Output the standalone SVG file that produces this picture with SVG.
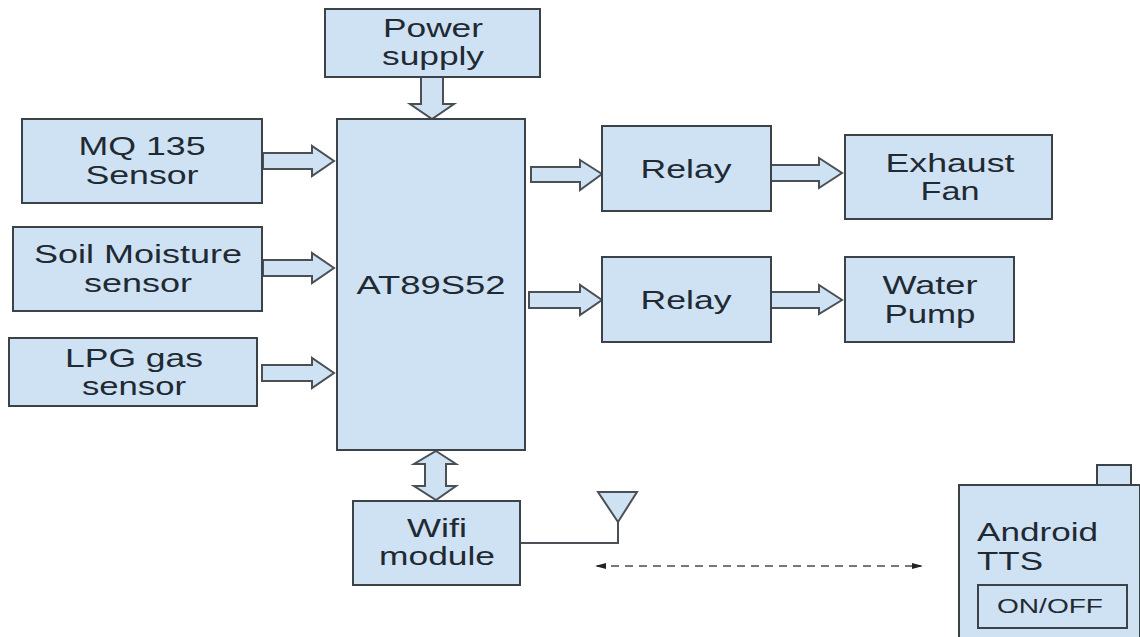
<svg xmlns="http://www.w3.org/2000/svg" width="1140" height="637" viewBox="0 0 1140 637">
<style>
.b{fill:#cfe2f3;stroke:#3c4348;stroke-width:2}
.a{fill:#cfe2f3;stroke:#4a5056;stroke-width:2;stroke-linejoin:miter}
.l{fill:none;stroke:#4a5056;stroke-width:2}
text{font-family:"Liberation Sans",Arial,sans-serif;font-size:26px;fill:#1f2a33;text-anchor:middle}
</style>
<defs>
<marker id="h" markerWidth="11" markerHeight="6" refX="9" refY="3" orient="auto-start-reverse" markerUnits="userSpaceOnUse"><path d="M0 0L11 3L0 6z" fill="#222"/></marker>
</defs>
<rect width="1140" height="637" fill="#fff"/>
<g id="connectors">
<path class="a" d="M421 77H443V104H454L432 119L410 104H421Z"/>
<path class="a" d="M263 153H312V146L334 161L312 176V169H263Z"/>
<path class="a" d="M263 260H312V253L334 268L312 283V276H263Z"/>
<path class="a" d="M262 365H312V358L334 373L312 388V381H262Z"/>
<path class="a" d="M531 167H580V160L602 174L580 190V182H531Z"/>
<path class="a" d="M529 292H580V285L602 300L580 315V308H529Z"/>
<path class="a" d="M771 165H819V158L842 173L819 188V181H771Z"/>
<path class="a" d="M771 292H819V285L842 300L819 314V308H771Z"/>
<path class="a" d="M436 451L456 464H446V486H456L436 500L414 486H425V464H414Z"/>
<path class="l" d="M520 543H618V522"/>
<path d="M598 492H637L618 522Z" class="a"/>
<path d="M597 566H921" fill="none" stroke="#777" stroke-width="2" stroke-dasharray="8 6" marker-start="url(#h)" marker-end="url(#h)"/>
</g>
<g id="power"><rect class="b" x="325" y="9" width="215" height="68"/><text x="433" y="37" textLength="100" lengthAdjust="spacingAndGlyphs">Power</text><text x="433" y="65" textLength="102" lengthAdjust="spacingAndGlyphs">supply</text></g>
<g id="mq135"><rect class="b" x="22" y="119" width="240" height="84"/><text x="142" y="155" textLength="127" lengthAdjust="spacingAndGlyphs">MQ 135</text><text x="142" y="184" textLength="113" lengthAdjust="spacingAndGlyphs">Sensor</text></g>
<g id="soil"><rect class="b" x="13" y="227" width="249" height="84"/><text x="138" y="263" textLength="208" lengthAdjust="spacingAndGlyphs">Soil Moisture</text><text x="138" y="292" textLength="108" lengthAdjust="spacingAndGlyphs">sensor</text></g>
<g id="lpg"><rect class="b" x="9" y="338" width="248" height="68"/><text x="134" y="367" textLength="138" lengthAdjust="spacingAndGlyphs">LPG gas</text><text x="134" y="395" textLength="104" lengthAdjust="spacingAndGlyphs">sensor</text></g>
<g id="mcu"><rect class="b" x="337" y="119" width="188" height="331"/><text x="431" y="294" textLength="149" lengthAdjust="spacingAndGlyphs">AT89S52</text></g>
<g id="relay1"><rect class="b" x="602" y="126" width="169" height="85"/><text x="686" y="178" textLength="91" lengthAdjust="spacingAndGlyphs">Relay</text></g>
<g id="relay2"><rect class="b" x="602" y="257" width="169" height="85"/><text x="686" y="309" textLength="91" lengthAdjust="spacingAndGlyphs">Relay</text></g>
<g id="fan"><rect class="b" x="845" y="135" width="207" height="84"/><text x="950" y="172" textLength="129" lengthAdjust="spacingAndGlyphs">Exhaust</text><text x="950" y="200" textLength="59" lengthAdjust="spacingAndGlyphs">Fan</text></g>
<g id="pump"><rect class="b" x="845" y="257" width="169" height="85"/><text x="930" y="294" textLength="95" lengthAdjust="spacingAndGlyphs">Water</text><text x="930" y="323" textLength="91" lengthAdjust="spacingAndGlyphs">Pump</text></g>
<g id="wifi"><rect class="b" x="353" y="501" width="167" height="84"/><text x="437" y="537" textLength="60" lengthAdjust="spacingAndGlyphs">Wifi</text><text x="437" y="565" textLength="116" lengthAdjust="spacingAndGlyphs">module</text></g>
<g id="android">
<rect class="b" x="1097" y="465" width="34" height="20"/>
<rect class="b" x="959" y="485" width="181" height="160"/>
<text x="977" y="541" textLength="121" lengthAdjust="spacingAndGlyphs" style="text-anchor:start">Android</text>
<text x="977" y="570" textLength="66" lengthAdjust="spacingAndGlyphs" style="text-anchor:start">TTS</text>
<rect class="b" x="978" y="585" width="149" height="43"/>
<text x="1050" y="613" textLength="106" lengthAdjust="spacingAndGlyphs" style="font-size:20px">ON/OFF</text>
</g>
</svg>
